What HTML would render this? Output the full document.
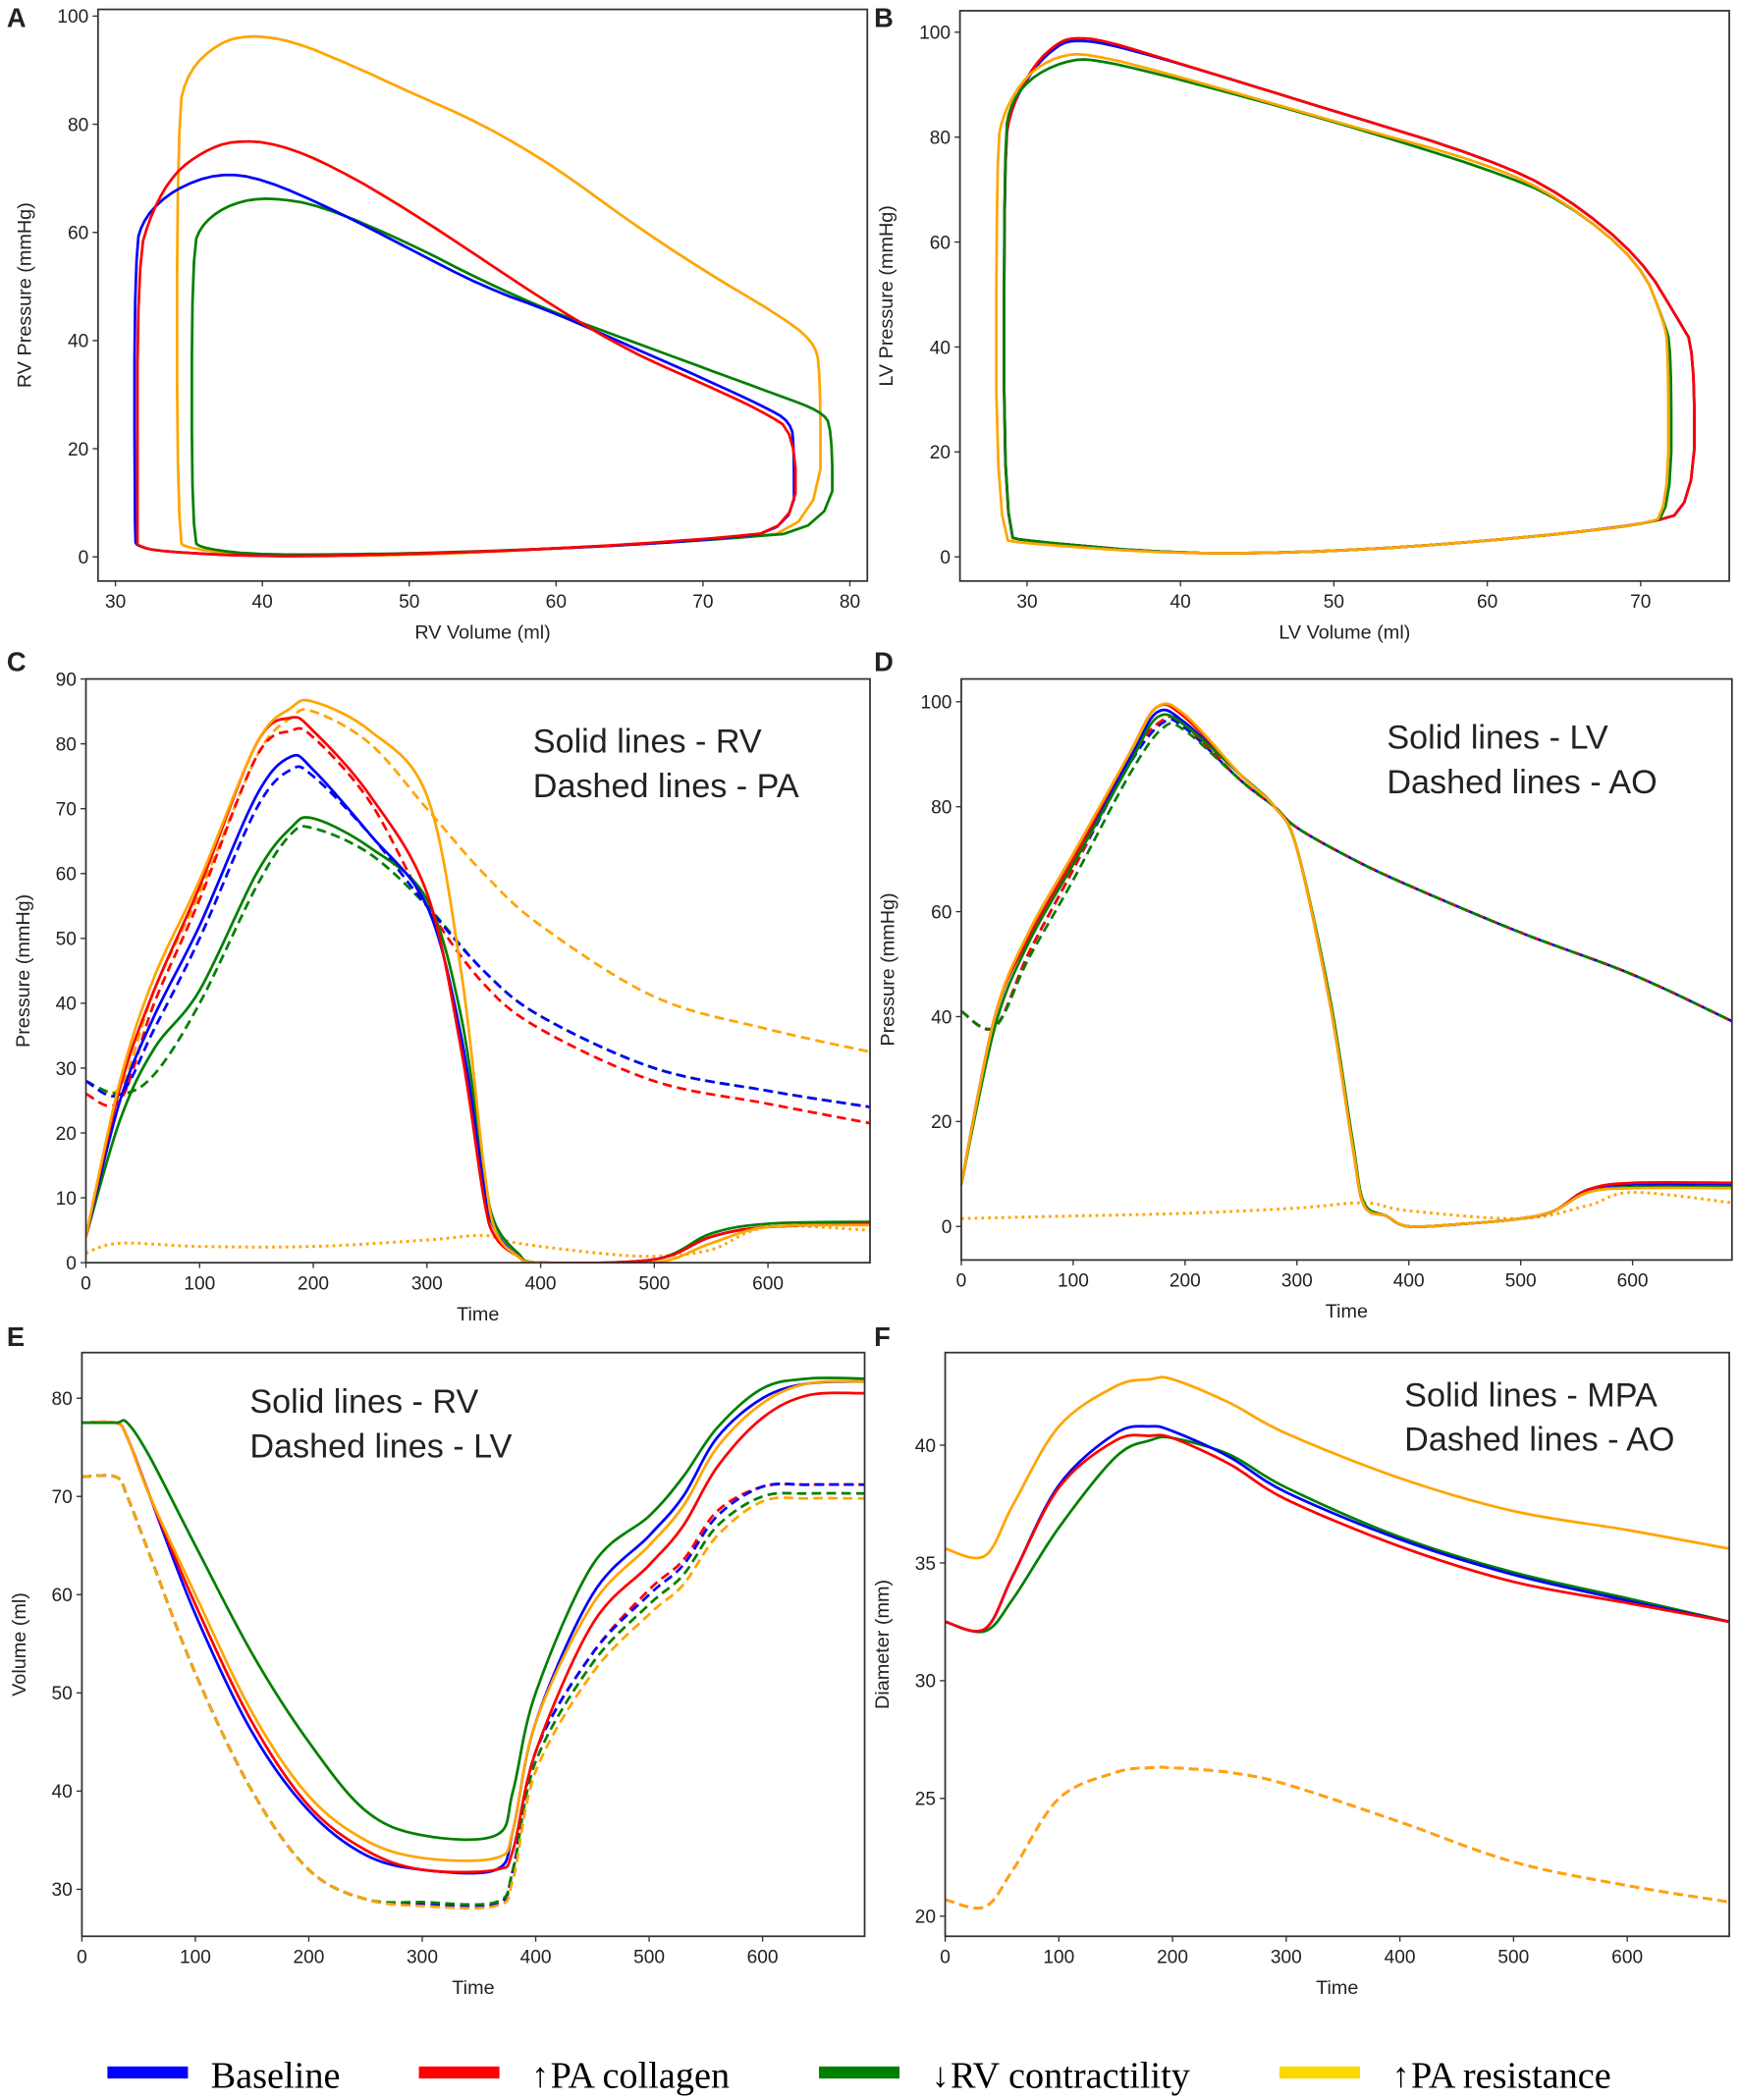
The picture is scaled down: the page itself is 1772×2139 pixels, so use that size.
<!DOCTYPE html>
<html><head><meta charset="utf-8"><style>
html,body{margin:0;padding:0;background:#fff}
svg{display:block}
text{font-family:"Liberation Sans","DejaVu Sans",sans-serif;fill:#222}
</style></head><body>
<svg id="fig" width="1772" height="2139" viewBox="0 0 1296 1565" preserveAspectRatio="none" xmlns="http://www.w3.org/2000/svg"></svg>
<script>
// ---- Data ----
const C={b:"#0000ff",r:"#ff0000",g:"#008000",o:"#ffa500"};
// Panel A: RV PV loops [volume, pressure]
const aBlueV=[31.3,31.3,32,34,37,40,45,50,55,60,65,70,74,76,76.2,76.2,70,60,50,40,33,31.5,31.3];
const aBlueP=[3,57,63,68,71,70,64,57,50,45,39,33,28,25,20,5,3,1.5,0.5,0,1,2,3];
const aRedV=[31.5,31.5,32.5,34,36,38,41,45,50,55,60,65,70,74,76.3,76.3,70,60,50,40,33,31.5,31.5];
const aRedP=[3,55,64,71,75,77,76.5,72,64,55,46,38,32,27,23,5,3.2,1.5,0.5,0,1,2,3];
const aGreenV=[35.2,35.2,36,38,40.5,44,50,55,60,65,70,75,78,78.8,78.8,70,60,50,40,36,35.2];
const aGreenP=[3,57,62,65.5,66.5,65,58,51,45,40,35,30,27,24,5,3,1.5,0.6,0.3,1.5,3];
const aOrangeV=[34.2,34.2,35,37,39,42,46,50,55,60,65,70,75,77.5,78,78,70,60,50,40,35,34.2];
const aOrangeP=[3,82,90,95,96.5,95.5,91,86,80,72,62,53,45,40,35,5,3,1.5,0.3,0,1.5,3];
// Panel B: LV PV loops
const bRedV=[28.5,28.5,29,30.5,32,33,35,40,50,60,65,70,72.5,73.5,73.5,70,60,50,40,30,28.5];
const bRedP=[4,78,86,94,98,99,98.5,94,85,76,69,57,45,40,9,6,3,1,0.5,3,4];
const bBlueP=[4,78,86,93.5,97.5,98.5,98,94,85,76,69,57,45,40,9,6,3,1,0.5,3,4];
const bGreenV=[28.5,28.5,29,30.5,33,35,40,50,60,65,70,71.5,72,72,70,60,50,40,30,28.5];
const bGreenP=[4,80,87,92,95,94.5,91,83,74,68,56,45,40,8,6,3,1,0.5,3,4];
const bOrangeV=[28,28,28.5,30,32,34,40,50,60,65,70,71.5,71.8,71.8,70,60,50,40,30,28];
const bOrangeP=[3.5,78,85,92,95.5,96,91.5,83,75,68,56,45,40,8,6,3,1,0.5,2.5,3.5];
// Panel C: RV (solid) and PA (dashed) pressures
const cT=[0,30,60,100,150,180,200,250,300,330,350,360,380,400,500,550,600,690];
const cRVBlue=[4,25,38,52,72,78,76,66,55,35,12,5,1,0,0.5,4,5.5,6];
const cRVRed=[4,27,42,58,80,84,82,72,57,33,10,4,1,0,0.5,4,5.5,6];
const cRVGreen=[4,22,33,42,60,67,68.5,64,56,38,14,6,1.5,0,0.5,4.5,6,6.3];
const cRVOrange=[4,28,44,59,80,85.5,86.5,82,72,45,15,5,1,0,0,3,5.5,5.8];
const cPT=[0,30,60,100,150,180,200,250,300,350,400,500,600,690];
const cPABlue=[28,26,36,50,70,76,75,66,55,45,38,30,26.5,24];
const cPARed=[26,25,40,56,78,82,81,71,55,43,36,28,24.5,21.5];
const cPAGreen=[28,26,29,40,58,66,67,63,55,45,38,30,26.5,24];
const cPAOrange=[28,27,42,57,78,84,85,80,70,60,52,41,36,32.5];
const cDT=[0,30,100,200,300,350,380,450,500,550,600,690];
const cDot=[1.5,3,2.5,2.5,3.5,4.2,3,1.5,1,2,5.5,5];
// Panel D: LV (solid) and AO (dashed)
const dT=[0,30,60,100,150,175,200,250,280,300,330,350,360,380,400,450,500,530,560,600,690];
const dLVBlue=[8,40,55,70,89,98,96,86,80,72,42,15,4,2,0,0.5,1.5,3,7,8,8];
const dLVRed=[8,40,55,70,90,99,97,86,80,72,42,15,4,2,0,0.5,1.5,3,7,8.3,8.3];
const dLVGreen=[8,38,54,69,88,97,95.5,86,80,72,43,16,4.5,2,0,0.5,1.5,3,6.5,7.5,7.5];
const dLVOrange=[8,40,56,71,90,99,97.5,86,80,72,42,15,4,2,0,0.5,1.5,3,6.5,7.3,7.3];
const dAT=[0,30,60,100,150,180,200,250,280,300,350,400,500,600,690];
const dAOBlue=[41,38,52,68,88,96,95,85,80,76,70,65,56,48,39];
const dAORed=[41,38,52,68,89,96.5,95.5,85,80,76,70,65,56,48,39];
const dAOGreen=[41,38,51,66,86,95,94.5,85,80,76,70,65,56,48,39];
const dAOOrange=[41,38,52,68,89,96.5,95.5,85,80,76,70,65,56,48,39];
const dDT=[0,100,200,300,360,400,500,560,600,690];
const dDot=[1.5,2,2.5,3.5,4.5,3,1.5,4,6.5,4.5];
// Panel E: RV (solid) and LV (dashed) volumes
const eT=[0,30,40,60,100,150,200,250,300,365,380,400,450,500,530,560,600,640,690];
const eRVBlue=[77.5,77.5,76,70,58,46,38,33.5,32,32,36,47,60,66,70,76,80,81.5,81.7];
const eRVRed=[77.5,77.5,76,70,59,47,38.5,34,32,32,34,44,57,63,67,73,78,80.3,80.5];
const eRVGreen=[77.5,77.5,77.5,74,65,54,45,38,35.5,35.5,40,50,63,68,72,77,81,82,82];
const eRVOrange=[77.5,77.5,76,70,60,48,39.5,35,33.2,33.2,36,47,59,65,69,75,79.5,81.5,81.7];
const eLVBlue=[72,72,70,64,52,40,32,29,28.5,28.5,32,44,54,60,63,68,71,71.2,71.2];
const eLVRed=[72,72,70,64,52,40,32,29,28.5,28.5,32,44,54,60.5,63.5,68.5,71,71.2,71.2];
const eLVGreen=[72,72,70,64,52,40,32,29,28.7,28.7,32,43,53,59,62,67,70,70.3,70.3];
const eLVOrange=[72,72,70,64,52,40,32,29,28.3,28.3,31,42,52,58,61,66,69.5,69.8,69.8];
// Panel F: MPA (solid) and AO (dashed) diameters
const fT=[0,35,60,100,150,180,200,250,300,400,500,600,690];
const fMPABlue=[32.5,32.2,34.5,38.3,40.5,40.8,40.6,39.5,38,36,34.5,33.4,32.5];
const fMPARed=[32.5,32.2,34.5,38.2,40.2,40.4,40.3,39.2,37.7,35.7,34.2,33.3,32.5];
const fMPAGreen=[32.5,32.1,33.5,36.5,39.5,40.2,40.3,39.6,38.2,36.1,34.6,33.5,32.5];
const fMPAOrange=[35.6,35.3,37.5,40.8,42.5,42.8,42.8,41.8,40.5,38.6,37.2,36.4,35.6];
const fAO=[20.7,20.4,22,25,26.1,26.3,26.3,26.1,25.6,24,22.3,21.3,20.6];
// Ticks
const aXT=[30,40,50,60,70,80], aYT=[0,20,40,60,80,100];
const bXT=[30,40,50,60,70], bYT=[0,20,40,60,80,100];
const tXT=[0,100,200,300,400,500,600];
const cYT=[0,10,20,30,40,50,60,70,80,90], dYT=[0,20,40,60,80,100];
const eYT=[30,40,50,60,70,80], fYT=[20,25,30,35,40];

const NS="http://www.w3.org/2000/svg";
const fig=document.getElementById('fig');
function mk(tag,attrs,parent){const e=document.createElementNS(NS,tag);for(const k in attrs)e.setAttribute(k,attrs[k]);(parent||fig).appendChild(e);return e;}
function lin(d0,d1,r0,r1){return v=>r0+(v-d0)*(r1-r0)/(d1-d0);}
function ext(v0,p0,v1,p1,e0,e1){const s=(v1-v0)/(p1-p0);return [v0+(e0-p0)*s,v0+(e1-p0)*s];}
function smooth(pts){let d="M"+pts[0][0].toFixed(1)+","+pts[0][1].toFixed(1);
 for(let i=0;i<pts.length-1;i++){const p0=pts[i-1]||pts[i],p1=pts[i],p2=pts[i+1],p3=pts[i+2]||p2;
  const c1=[p1[0]+(p2[0]-p0[0])/6,p1[1]+(p2[1]-p0[1])/6],c2=[p2[0]-(p3[0]-p1[0])/6,p2[1]-(p3[1]-p1[1])/6];
  d+="C"+c1.map(v=>v.toFixed(1))+" "+c2.map(v=>v.toFixed(1))+" "+p2[0].toFixed(1)+","+p2[1].toFixed(1);}return d;}
function chaikin(pts,n){for(let k=0;k<n;k++){const q=[];for(let i=0;i<pts.length-1;i++){const a=pts[i],b=pts[i+1];
 q.push([a[0]*0.75+b[0]*0.25,a[1]*0.75+b[1]*0.25],[a[0]*0.25+b[0]*0.75,a[1]*0.25+b[1]*0.75]);}q.push(q[0]);pts=q;}return pts;}
function poly(pts){return "M"+pts.map(p=>p[0].toFixed(1)+","+p[1].toFixed(1)).join("L");}
function panel(name,box,xd,yd,xt,yt,xl,yl,letter){
 const g=mk('g',{});
 
 
 const X=lin(xd[0],xd[1],box[0],box[1]),Y=lin(yd[0],yd[1],box[3],box[2]);
 const clipId=name+'-clip';const cp=mk('clipPath',{id:clipId},g);mk('rect',{x:box[0],y:box[2],width:box[1]-box[0],height:box[3]-box[2]},cp);
 const plot=mk('g',{'clip-path':'url(#'+clipId+')'},g);
 const fr=mk('rect',{x:box[0],y:box[2],width:box[1]-box[0],height:box[3]-box[2],fill:'none',stroke:'#333','stroke-width':1.3},g);
 
 
 xt.forEach(v=>{mk('line',{x1:X(v),x2:X(v),y1:box[3],y2:box[3]+4,stroke:'#333'},g);
  const t=mk('text',{x:X(v),y:box[3]+20,'text-anchor':'middle','font-size':14},g);t.textContent=v;
  
  });
 yt.forEach(v=>{mk('line',{x1:box[0]-4,x2:box[0],y1:Y(v),y2:Y(v),stroke:'#333'},g);
  const t=mk('text',{x:box[0]-7,y:Y(v)+5,'text-anchor':'end','font-size':14},g);t.textContent=v;
  
  });
 const xa=mk('text',{x:(box[0]+box[1])/2,y:box[3]+43,'text-anchor':'middle','font-size':14.5},g);xa.textContent=xl;
 
 
 const yx=box[0]-(yt.some(v=>v>=100)?50:42);
 const ya=mk('text',{x:0,y:0,'text-anchor':'middle','font-size':14.5,transform:'translate('+yx+','+((box[2]+box[3])/2)+') rotate(-90)'},g);ya.textContent=yl;
 
 
 const L=mk('text',{x:letter[0],y:letter[1],'font-size':20,'font-weight':'bold'},g);L.textContent=letter[2];
 
 
 return {X,Y,plot,g};
}
function series(p,xs,ys,color,name,style){
 const pts=xs.map((x,i)=>[p.X(x),p.Y(ys[i])]);
 const a={d:style==='loop'?poly(chaikin(pts,2)):smooth(pts),fill:'none',stroke:color,'stroke-width':2,'stroke-linejoin':'round'};
 if(style==='dash')a['stroke-dasharray']='7,4';
 if(style==='dot'){a['stroke-dasharray']='2,3';a['stroke-width']=2.2;}
 const e=mk('path',a,p.plot);
 
 
}
function note(p,x,y,l1,l2){[l1,l2].forEach((s,i)=>{const t=mk('text',{x:x,y:y+i*33,'font-size':25},p.g);t.textContent=s;
 
 });}

const PA=panel('panel-a',[73,646,7,433],ext(30,86,80,633,73,646),ext(0,415,100,12,433,7),aXT,aYT,'RV Volume (ml)','RV Pressure (mmHg)',[5,20,'A']);
series(PA,aOrangeV,aOrangeP,C.o,'a-orange-loop','loop');
series(PA,aGreenV,aGreenP,C.g,'a-green-loop','loop');
series(PA,aBlueV,aBlueP,C.b,'a-blue-loop','loop');
series(PA,aRedV,aRedP,C.r,'a-red-loop','loop');
const PB=panel('panel-b',[715,1288,8,433],ext(30,765,70,1222,715,1288),ext(0,415,100,24,433,8),bXT,bYT,'LV Volume (ml)','LV Pressure (mmHg)',[651,20,'B']);
series(PB,bRedV,bBlueP,C.b,'b-blue-loop','loop');
series(PB,bRedV,bRedP,C.r,'b-red-loop','loop');
series(PB,bGreenV,bGreenP,C.g,'b-green-loop','loop');
series(PB,bOrangeV,bOrangeP,C.o,'b-orange-loop','loop');
const PC=panel('panel-c',[64,648,506,941],ext(0,64,600,572,64,648),[0,90],tXT,cYT,'Time','Pressure (mmHg)',[5,500,'C']);
series(PC,cDT,cDot,C.o,'c-dotted','dot');
series(PC,cPT,cPAOrange,C.o,'c-pa-orange','dash');
series(PC,cPT,cPARed,C.r,'c-pa-red','dash');
series(PC,cPT,cPAGreen,C.g,'c-pa-green','dash');
series(PC,cPT,cPABlue,C.b,'c-pa-blue','dash');
series(PC,cT,cRVGreen,C.g,'c-rv-green');
series(PC,cT,cRVBlue,C.b,'c-rv-blue');
series(PC,cT,cRVRed,C.r,'c-rv-red');
series(PC,cT,cRVOrange,C.o,'c-rv-orange');
note(PC,397,561,'Solid lines - RV','Dashed lines - PA');
const PD=panel('panel-d',[716,1290,506,939],ext(0,716,600,1216,716,1290),ext(0,914,100,523,939,506),tXT,dYT,'Time','Pressure (mmHg)',[651,500,'D']);
series(PD,dDT,dDot,C.o,'d-dotted','dot');
series(PD,dAT,dAOOrange,C.o,'d-ao-orange','dash');
series(PD,dAT,dAOBlue,C.b,'d-ao-blue','dash');
series(PD,dAT,dAORed,C.r,'d-ao-red','dash');
series(PD,dAT,dAOGreen,C.g,'d-ao-green','dash');
series(PD,dT,dLVBlue,C.b,'d-lv-blue');
series(PD,dT,dLVRed,C.r,'d-lv-red');
series(PD,dT,dLVGreen,C.g,'d-lv-green');
series(PD,dT,dLVOrange,C.o,'d-lv-orange');
note(PD,1033,558,'Solid lines - LV','Dashed lines - AO');
const PE=panel('panel-e',[61,644,1008,1443],ext(0,61,600,568,61,644),ext(80,1042,30,1408,1443,1008),tXT,eYT,'Time','Volume (ml)',[5,1003,'E']);
series(PE,eT,eLVRed,C.r,'e-lv-red','dash');
series(PE,eT,eLVBlue,C.b,'e-lv-blue','dash');
series(PE,eT,eLVGreen,C.g,'e-lv-green','dash');
series(PE,eT,eLVOrange,C.o,'e-lv-orange','dash');
series(PE,eT,eRVBlue,C.b,'e-rv-blue');
series(PE,eT,eRVRed,C.r,'e-rv-red');
series(PE,eT,eRVOrange,C.o,'e-rv-orange');
series(PE,eT,eRVGreen,C.g,'e-rv-green');
note(PE,186,1053,'Solid lines - RV','Dashed lines - LV');
const PF=panel('panel-f',[704,1288,1008,1443],ext(0,704,600,1212,704,1288),ext(40,1077,20,1428,1443,1008),tXT,fYT,'Time','Diameter (mm)',[651,1003,'F']);
series(PF,fT,fAO,C.r,'f-ao-red','dash');
series(PF,fT,fAO,C.o,'f-ao-orange','dash');
series(PF,fT,fMPAOrange,C.o,'f-mpa-orange');
series(PF,fT,fMPAGreen,C.g,'f-mpa-green');
series(PF,fT,fMPABlue,C.b,'f-mpa-blue');
series(PF,fT,fMPARed,C.r,'f-mpa-red');
note(PF,1046,1048,'Solid lines - MPA','Dashed lines - AO');
// Legend
const leg=[["Baseline",C.b,80,157,""],["PA collagen",C.r,312,410,"↑"],["RV contractility",C.g,610,708,"↓"],["PA resistance","#ffd700",953,1051,"↑"]];
leg.forEach(l=>{const g=mk('g',{});
 
 
 mk('rect',{x:l[2],y:1540,width:60,height:9,fill:l[1]},g);
 if(l[4]){const a=mk('text',{x:l[3]-14,y:1555,'font-size':26,style:'font-family:"Liberation Serif",serif;fill:#000'},g);a.textContent=l[4];}
 const t=mk('text',{x:l[3],y:1556,'font-size':28,style:'font-family:"Liberation Serif",serif;fill:#000'},g);t.textContent=l[0];});
</script>
</body></html>
